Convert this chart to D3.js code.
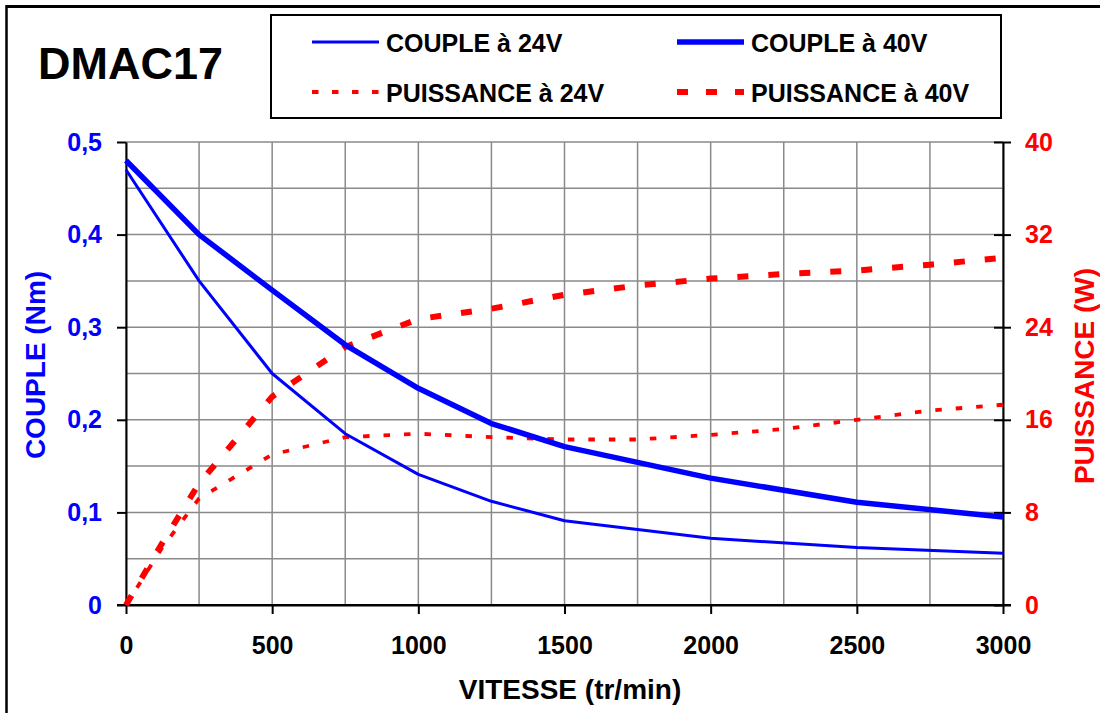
<!DOCTYPE html>
<html><head><meta charset="utf-8">
<script src="https://cdn.jsdelivr.net/npm/d3@7"></script>
<style>
html,body{margin:0;padding:0;background:#fff;}
text{font-family:"Liberation Sans",Arial,sans-serif;font-weight:bold;}
</style></head>
<body>
<svg id="chart" width="1100" height="713"></svg>
<script>
// ---- data ----
const coupleRpm = [0, 250, 500, 750, 1000, 1250, 1500, 2000, 2500, 3000];
const couple24 = [0.47, 0.35, 0.25, 0.185, 0.141, 0.112, 0.091, 0.072, 0.062, 0.056];
const couple40 = [0.48, 0.40, 0.34, 0.281, 0.234, 0.196, 0.171, 0.137, 0.111, 0.095];
const powerRpm = [0, 125, 250, 500, 750, 1000, 1250, 1500, 1750, 2000, 2250, 2500, 2750, 3000];
const power24 = [0, 5.0, 9.2, 13.0, 14.5, 14.8, 14.5, 14.3, 14.3, 14.7, 15.2, 16.0, 16.8, 17.3];
const power40 = [0, 5.4, 10.5, 18.0, 22.3, 24.7, 25.6, 26.8, 27.6, 28.2, 28.6, 28.9, 29.4, 30.0];
const xTicks = [0, 500, 1000, 1500, 2000, 2500, 3000];
const leftTicks = [0, 0.1, 0.2, 0.3, 0.4, 0.5];
const rightTicks = [0, 8, 16, 24, 32, 40];
const legendLabels = ["COUPLE à 24V", "COUPLE à 40V", "PUISSANCE à 24V", "PUISSANCE à 40V"];
const titleText = "DMAC17";
const xTitle = "VITESSE (tr/min)";
const yLeftTitle = "COUPLE (Nm)";
const yRightTitle = "PUISSANCE (W)";

// ---- layout ----
const svg = d3.select("#chart");
const L = 126, R = 1003, T = 142, B = 605;
const BLUE = "#0000ff", RED = "#ff0000";

const x = d3.scaleLinear().domain([0, 3000]).range([L, R]);
const yL = d3.scaleLinear().domain([0, 0.5]).range([B, T]);
const yR = d3.scaleLinear().domain([0, 40]).range([B, T]);

// outer frame (top + left)
svg.append("line").attr("x1", 6).attr("x2", 1100).attr("y1", 6.5).attr("y2", 6.5)
  .attr("stroke", "#000").attr("stroke-width", 3);
svg.append("line").attr("x1", 6.5).attr("x2", 6.5).attr("y1", 5).attr("y2", 713)
  .attr("stroke", "#000").attr("stroke-width", 2.5);

// grid
const grid = svg.append("g");
grid.selectAll(".gv").data(d3.range(0, 3001, 250)).join("line")
  .attr("x1", d => x(d)).attr("x2", d => x(d)).attr("y1", T).attr("y2", B)
  .attr("stroke", "#8a8a8a").attr("stroke-width", 1.5);
grid.selectAll(".gh").data(d3.range(0, 11).map(i => i * 0.05)).join("line")
  .attr("x1", L).attr("x2", R).attr("y1", d => yL(d)).attr("y2", d => yL(d))
  .attr("stroke", "#8a8a8a").attr("stroke-width", 1.5);

// axes
const fmtL = d => d === 0 ? "0" : d.toFixed(1).replace(".", ",");
const gx = svg.append("g").attr("transform", `translate(0,${B})`)
  .call(d3.axisBottom(x).tickValues(xTicks).tickFormat(d3.format("d")).tickSize(9).tickPadding(22).tickSizeOuter(0));
gx.selectAll("text").attr("fill", "#000").attr("font-size", 25);

const gl = svg.append("g").attr("transform", `translate(${L},0)`)
  .call(d3.axisLeft(yL).tickValues(leftTicks).tickFormat(fmtL).tickSize(9).tickPadding(15).tickSizeOuter(0));
gl.selectAll("text").attr("fill", BLUE).attr("font-size", 25);

const gr = svg.append("g").attr("transform", `translate(${R},0)`)
  .call(d3.axisRight(yR).tickValues(rightTicks).tickSize(8).tickPadding(14).tickSizeOuter(0));
gr.selectAll("text").attr("fill", RED).attr("font-size", 25);
gr.selectAll(".tick").append("line").attr("x1", -9).attr("x2", 0).attr("stroke", "#000");

[gx, gl, gr].forEach(g => {
  g.selectAll(".domain").attr("stroke", "#000").attr("stroke-width", 2);
  g.selectAll(".tick line").attr("stroke", "#000").attr("stroke-width", 2);
  g.attr("font-family", null).attr("font-size", null);
});
// extend x domain line under the crossing ticks
svg.append("line").attr("x1", L - 9).attr("x2", R + 8).attr("y1", B).attr("y2", B)
  .attr("stroke", "#000").attr("stroke-width", 2);

// series
const lineC = arr => d3.line().x((d, i) => x(coupleRpm[i])).y(d => yL(d))(arr);
const lineP = arr => d3.line().x((d, i) => x(powerRpm[i])).y(d => yR(d))(arr);

const series = svg.append("g");
series.append("path").attr("d", lineP(power24)).attr("fill", "none")
  .attr("stroke", RED).attr("stroke-width", 3.8).attr("stroke-dasharray", "6.5,14");
series.append("path").attr("d", lineP(power40)).attr("fill", "none")
  .attr("stroke", RED).attr("stroke-width", 6).attr("stroke-dasharray", "11,20");
series.append("path").attr("d", lineC(couple24)).attr("fill", "none")
  .attr("stroke", BLUE).attr("stroke-width", 3).attr("stroke-linejoin", "round");
series.append("path").attr("d", lineC(couple40)).attr("fill", "none")
  .attr("stroke", BLUE).attr("stroke-width", 5.5).attr("stroke-linejoin", "round");

// titles
svg.append("text").attr("x", 38).attr("y", 79).attr("font-size", 45).attr("fill", "#000").text(titleText);
svg.append("text").attr("x", 570).attr("y", 699).attr("text-anchor", "middle")
  .attr("font-size", 28).attr("fill", "#000").text(xTitle);
svg.append("text").attr("transform", "translate(45,365) rotate(-90)").attr("text-anchor", "middle")
  .attr("font-size", 28).attr("fill", BLUE).text(yLeftTitle);
svg.append("text").attr("transform", "translate(1094,376) rotate(-90)").attr("text-anchor", "middle")
  .attr("font-size", 28).attr("fill", RED).text(yRightTitle);

// legend
const lg = svg.append("g");
lg.append("rect").attr("x", 271).attr("y", 15).attr("width", 730).attr("height", 103)
  .attr("fill", "#fff").attr("stroke", "#000").attr("stroke-width", 2);
const legendItems = [
  {lx: 312, ty: 42, color: BLUE, w: 3, dash: null},
  {lx: 677, ty: 42, color: BLUE, w: 5.5, dash: null},
  {lx: 312, ty: 92, color: RED, w: 4, dash: "6.5,13.5"},
  {lx: 677, ty: 92, color: RED, w: 6, dash: "11,18"}
];
legendItems.forEach((it, i) => {
  lg.append("line").attr("x1", it.lx).attr("x2", it.lx + 67).attr("y1", it.ty).attr("y2", it.ty)
    .attr("stroke", it.color).attr("stroke-width", it.w).attr("stroke-dasharray", it.dash);
  lg.append("text").attr("x", it.lx + 74).attr("y", it.ty + 9.5).attr("font-size", 25)
    .attr("fill", "#000").text(legendLabels[i]);
});
</script>
</body></html>
